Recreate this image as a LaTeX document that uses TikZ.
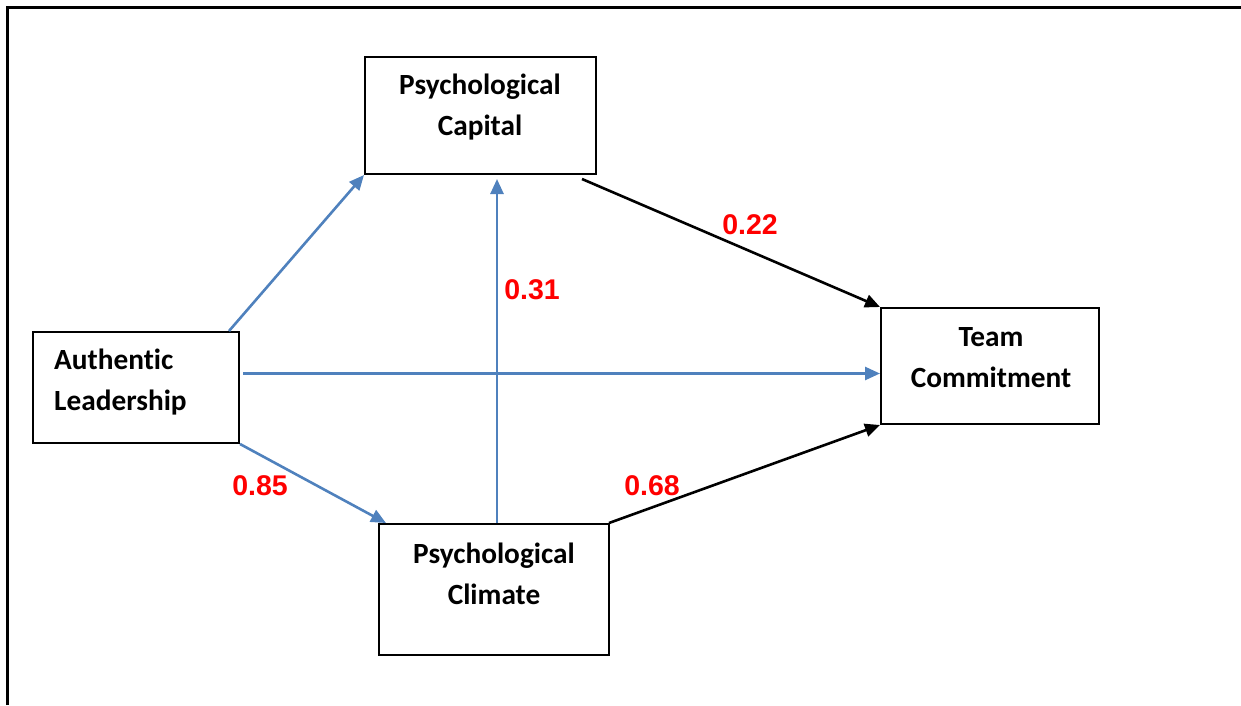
\documentclass[tikz,border=0pt]{standalone}
\usepackage{fontspec}
\setmainfont{Carlito}[Ligatures=NoCommon]
\newfontfamily\arialfont{Liberation Sans}
\usetikzlibrary{arrows.meta,calc}
\definecolor{pathblue}{HTML}{4F81BD}
\definecolor{labred}{HTML}{FF0000}
\tikzset{
  box/.style={draw=black, line width=2pt, rectangle, inner sep=0pt},
  boxtext/.style={font=\fontsize{29.3}{41}\selectfont\bfseries, align=center, inner sep=0pt},
  bluearrow/.style={draw=pathblue, line width=2.6pt, -{Triangle[length=15pt,width=13pt]}},
  blackarrow/.style={draw=black, line width=2.6pt, -{Triangle[length=15pt,width=13pt]}},
  coef/.style={font=\arialfont\fontsize{28.5}{30}\selectfont\bfseries, text=labred, inner sep=0pt},
  frameline/.style={draw=black, line width=3pt}
}
\begin{document}
\begin{tikzpicture}[x=1pt,y=-1pt]
\useasboundingbox (0,0) rectangle (1241,705);
% outer frame
\coordinate (fbl) at (7.5,705);
\coordinate (ftl) at (7.5,7.5);
\coordinate (ftr) at (1241,7.5);
\draw[frameline] (fbl) -- (ftl) -- (ftr);

% boxes
\node[box, minimum width=231pt, minimum height=117pt] (pc) at (480.5,115.5) {};
\node[box, minimum width=206pt, minimum height=111pt] (al) at (136,387.5) {};
\node[box, minimum width=218pt, minimum height=116pt] (tc) at (990,366) {};
\node[box, minimum width=230pt, minimum height=131pt] (pcl) at (494,589.5) {};

% box texts
\node[boxtext] (pct) at (480,107) {Psychological\\Capital};
\node[boxtext, anchor=west, align=left] (alt) at (54,382) {Authentic\\Leadership};
\node[boxtext] (tct) at (991,358) {Team\\Commitment};
\node[boxtext] (pclt) at (494,574) {Psychological\\Climate};

% connectors
\draw[bluearrow] ([xshift=-11pt]al.north east) -- (pc.south west);
\coordinate (h) at ([shift={(3pt,14pt)}]al.east);
\draw[bluearrow] (h) -- (h -| tc.west);
\draw[bluearrow] (al.south east) -- ([xshift=8pt]pcl.north west);
\coordinate (v) at ([xshift=3pt]pcl.north);
\draw[bluearrow, shorten >=4pt] (v) -- (v |- pc.south);
\draw[blackarrow] ([shift={(-15pt,-4pt)}]pc.south east) -- (tc.north west);
\draw[blackarrow] ([xshift=-1pt]pcl.north east) -- (tc.south west);

% coefficients
\node[coef] (c22) at (750,225) {0.22};
\node[coef] (c31) at (532,290) {0.31};
\node[coef] (c85) at (260,486) {0.85};
\node[coef] (c68) at (652,486) {0.68};
\end{tikzpicture}
\end{document}
